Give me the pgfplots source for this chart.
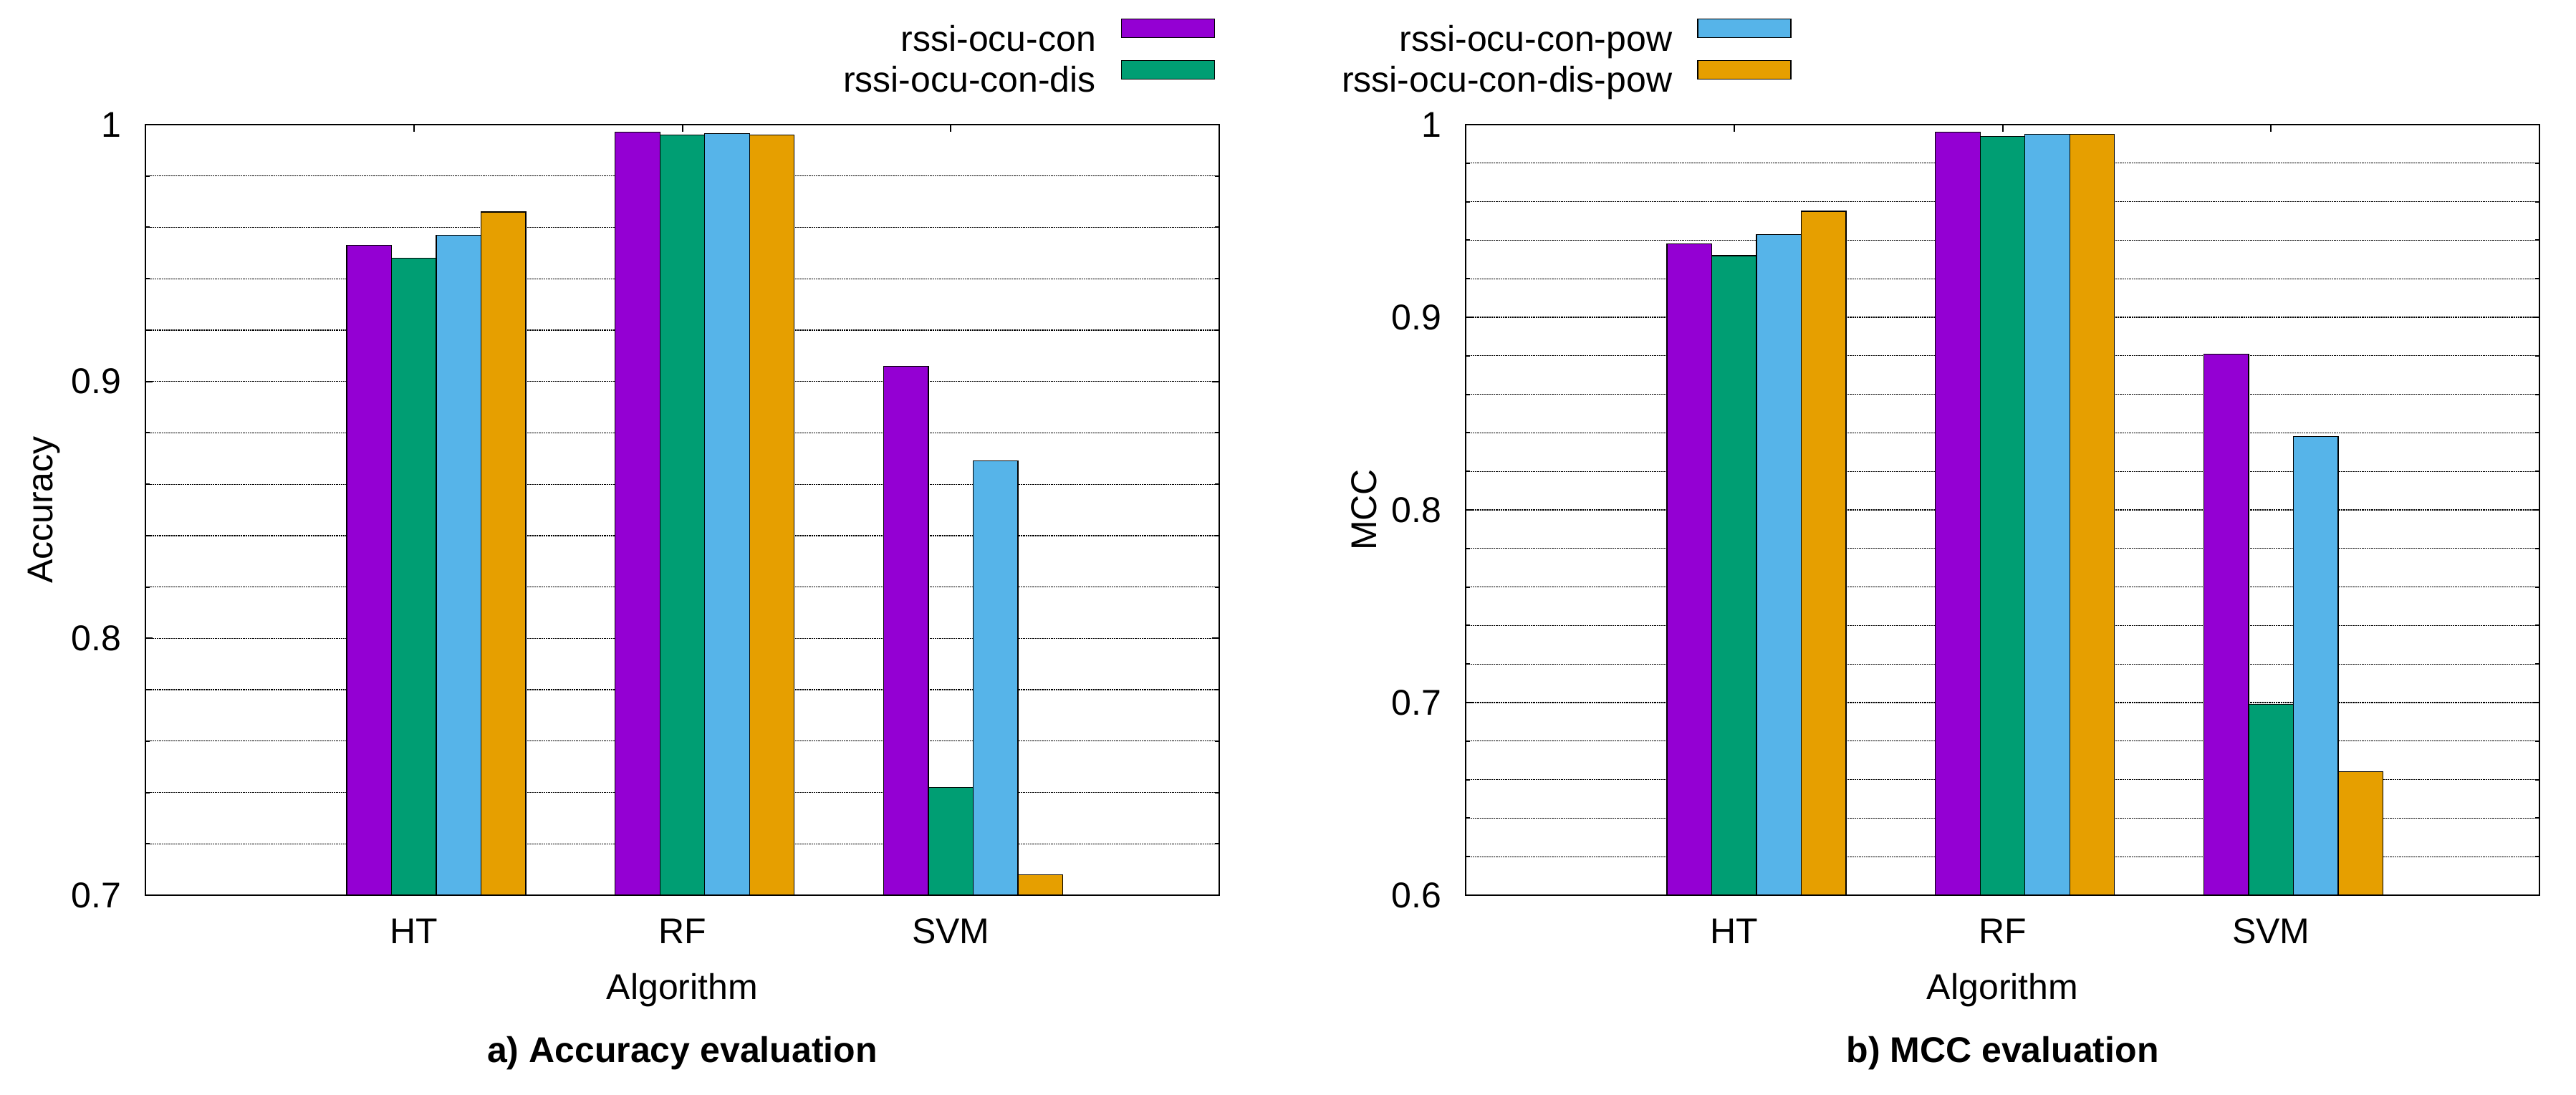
\documentclass[border=0pt]{standalone}
\usepackage{fontspec}
\setmainfont{Liberation Sans}
\usepackage{pgfplots}
\pgfplotsset{compat=1.18}

\definecolor{gpviolet}{RGB}{148,0,211}
\definecolor{gpgreen}{RGB}{0,158,115}
\definecolor{gpblue}{RGB}{86,180,233}
\definecolor{gporange}{RGB}{230,159,0}

\pgfplotsset{
  gppanel/.style={
    scale only axis, width=299.8pt, height=215.2pt,
    xmin=-1, xmax=3,
    xtick={0,1,2}, xticklabels={HT,RF,SVM},
    minor y tick num=4,
    ymajorgrids, yminorgrids,
    major grid style={black, line width=0.25pt, dash pattern=on 0.45pt off 0.2pt},
    minor grid style={black, line width=0.25pt, dash pattern=on 0.45pt off 0.2pt},
    tick align=inside,
    major tick length=2pt, minor tick length=1.2pt,
    tick style={black, line width=0.4pt},
    axis line style={line width=0.4pt},
    /pgf/number format/assume math mode=true,
    yticklabel style={anchor=east, inner sep=0pt, xshift=-6.6pt},
    xticklabel style={anchor=base, inner sep=0pt, yshift=-13.4pt},
    xlabel={Algorithm},
    every axis x label/.style={at={(axis description cs:0.5,0)}, anchor=base, inner sep=0pt, yshift=-29pt},
    every axis y label/.style={at={(axis description cs:0,0.5)}, anchor=center, inner sep=0pt, xshift=-28.4pt, rotate=90},
    every axis title/.style={at={(axis description cs:0.5,0)}, anchor=base, inner sep=0pt, yshift=-46.6pt, font=\bfseries},
  },
  gpbar/.style={
    ybar, bar width=0.1667, draw=black, line width=0.25pt,
    legend image code/.code={\draw[##1, draw=black, line width=0.25pt] (0pt,0.8pt) rectangle (26pt,6pt);},
  },
}

\begin{document}
\begin{tikzpicture}
\path[use as bounding box] (-40.6pt,-55.6pt) rectangle (678.6pt,250pt);

% a) Accuracy
\begin{axis}[gppanel,
  ymin=0.7, ymax=1, ytick={0.7,0.8,0.9,1},
  ylabel={Accuracy},
  title={a) Accuracy evaluation},
  legend columns=2, transpose legend, legend plot pos=right, legend cell align=right,
  legend style={at={(rel axis cs:0.6498,1.1375)}, anchor=north west, draw=none, fill=none,
    inner sep=0pt, outer sep=0pt, nodes={inner sep=0pt}, row sep=1pt,
    /tikz/every odd column/.append style={column sep=7pt},
    /tikz/every even column/.append style={column sep=35.4pt}},
]
\addplot[gpbar, fill=gpviolet, bar shift=-0.1667] coordinates {(0,0.953) (1,0.997) (2,0.906)};
\addlegendentry{rssi-ocu-con}
\addplot[gpbar, fill=gpgreen, bar shift=0] coordinates {(0,0.948) (1,0.996) (2,0.742)};
\addlegendentry{rssi-ocu-con-dis}
\addplot[gpbar, fill=gpblue, bar shift=0.1667] coordinates {(0,0.957) (1,0.9966) (2,0.869)};
\addlegendentry{rssi-ocu-con-pow}
\addplot[gpbar, fill=gporange, bar shift=0.3333] coordinates {(0,0.966) (1,0.996) (2,0.708)};
\addlegendentry{rssi-ocu-con-dis-pow}
\end{axis}

% b) MCC
\begin{axis}[gppanel, at={(368.6pt,0pt)},
  ymin=0.6, ymax=1, ytick={0.6,0.7,0.8,0.9,1},
  ylabel={MCC},
  title={b) MCC evaluation},
]
\addplot[gpbar, fill=gpviolet, bar shift=-0.1667] coordinates {(0,0.938) (1,0.996) (2,0.881)};
\addplot[gpbar, fill=gpgreen, bar shift=0] coordinates {(0,0.932) (1,0.994) (2,0.699)};
\addplot[gpbar, fill=gpblue, bar shift=0.1667] coordinates {(0,0.943) (1,0.995) (2,0.838)};
\addplot[gpbar, fill=gporange, bar shift=0.3333] coordinates {(0,0.955) (1,0.995) (2,0.664)};
\end{axis}
\end{tikzpicture}
\end{document}
